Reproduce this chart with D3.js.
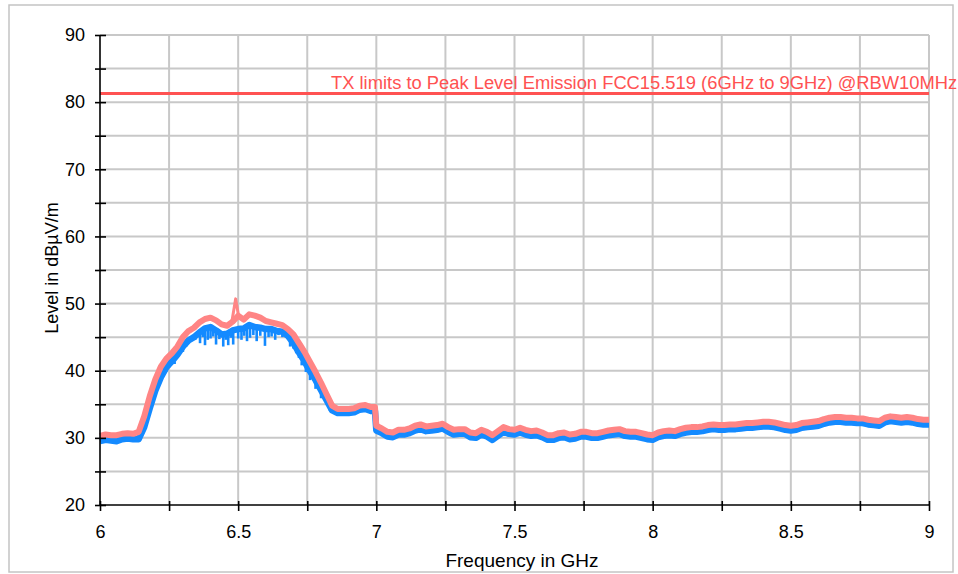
<!DOCTYPE html>
<html>
<head>
<meta charset="utf-8">
<script src="https://cdn.jsdelivr.net/npm/d3@7"></script>
<style>
  body { margin: 0; background: #fff; }
  svg { font-family: "Liberation Sans", Arial, sans-serif; }
  .grid line { stroke: #c8c8c8; stroke-width: 2; }
  .axis path, .axis line { stroke: #000; stroke-width: 1.6; }
  .axis text { font-size: 18px; fill: #000; }
  .axisText { font-size: 18px; fill: #000; text-anchor: middle; }
</style>
</head>
<body>
<div id="chart"></div>
<script>
// Frequencies in GHz (one extra point just before the 7 GHz step)
const freqs = [...d3.range(0, 50).map(i => 6 + i * 0.02), 6.995, ...d3.range(0, 101).map(i => 7 + i * 0.02)]
  .map(f => +f.toFixed(3));

// Peak trace (pink), dBµV/m
const peakLevel = [
  30.3, 30.5, 30.4, 30.4, 30.6, 30.7, 30.6, 30.9, 33.2, 36.2,
  38.7, 40.6, 41.8, 42.6, 43.6, 45.0, 45.9, 46.4, 47.2, 47.7,
  47.9, 47.5, 46.9, 46.7, 47.3, 48.2, 47.6, 48.4, 48.2, 47.9,
  47.4, 47.2, 47.0, 46.8, 46.2, 45.4, 44.1, 42.8, 41.3, 39.8,
  38.2, 36.5, 34.8, 34.3, 34.3, 34.3, 34.4, 34.8, 34.9, 34.6,
  34.6,
  31.8, 31.4, 30.9, 30.8, 31.2, 31.2, 31.4, 31.8, 32.0, 31.7,
  31.8, 31.9, 32.1, 31.6, 31.2, 31.3, 31.3, 30.8, 30.7, 31.2,
  30.9, 30.4, 31.0, 31.6, 31.3, 31.2, 31.5, 31.2, 31.0, 31.1,
  30.8, 30.4, 30.4, 30.7, 30.8, 30.5, 30.6, 30.9, 30.9, 30.7,
  30.7, 30.9, 31.1, 31.2, 31.3, 31.0, 30.9, 30.9, 30.7, 30.5,
  30.4, 30.8, 31.0, 31.1, 31.0, 31.3, 31.5, 31.6, 31.6, 31.7,
  31.9, 32.0, 31.9, 31.9, 32.0, 32.0, 32.1, 32.2, 32.2, 32.3,
  32.4, 32.4, 32.3, 32.1, 31.9, 31.8, 31.9, 32.2, 32.3, 32.4,
  32.5, 32.8, 33.0, 33.1, 33.1, 33.0, 33.0, 32.9, 32.9, 32.7,
  32.6, 32.5, 33.0, 33.2, 33.1, 33.0, 33.1, 33.0, 32.8, 32.7,
  32.7
];

// Average trace (blue), dBµV/m
const avgLevel = [
  29.5, 29.7, 29.6, 29.5, 29.8, 29.9, 29.8, 29.8, 31.6, 34.4,
  37.0, 39.0, 40.5, 41.4, 42.4, 43.6, 44.5, 45.0, 45.7, 46.3,
  46.5, 46.0, 45.4, 45.5, 46.0, 46.2, 46.3, 46.8, 46.5, 46.4,
  46.2, 46.2, 45.9, 45.8, 45.2, 44.1, 42.7, 41.4, 39.9, 38.6,
  37.1, 35.6, 34.1, 33.7, 33.7, 33.7, 33.8, 34.2, 34.3, 34.0,
  34.0,
  31.1, 30.7, 30.2, 30.1, 30.5, 30.5, 30.7, 31.1, 31.3, 31.0,
  31.1, 31.2, 31.4, 30.9, 30.5, 30.6, 30.6, 30.1, 30.0, 30.5,
  30.2, 29.7, 30.3, 30.9, 30.6, 30.5, 30.8, 30.5, 30.3, 30.4,
  30.1, 29.7, 29.7, 30.0, 30.1, 29.8, 29.9, 30.2, 30.2, 30.0,
  30.0, 30.2, 30.4, 30.5, 30.6, 30.3, 30.2, 30.2, 30.0, 29.8,
  29.7, 30.1, 30.3, 30.4, 30.3, 30.6, 30.8, 30.9, 30.9, 31.0,
  31.2, 31.3, 31.2, 31.2, 31.3, 31.3, 31.4, 31.5, 31.5, 31.6,
  31.7, 31.7, 31.6, 31.4, 31.2, 31.1, 31.2, 31.5, 31.6, 31.7,
  31.8, 32.1, 32.3, 32.4, 32.4, 32.3, 32.3, 32.2, 32.2, 32.0,
  31.9, 31.8, 32.3, 32.5, 32.4, 32.3, 32.4, 32.3, 32.1, 32.0,
  32.0
];

// Downward spikes of the blue trace, mostly inside the 6.2–6.75 GHz hump
const dipFreq = [
  6.18, 6.19, 6.205, 6.215, 6.23, 6.24, 6.25, 6.262, 6.27, 6.285, 6.30, 6.312,
  6.326, 6.335, 6.345, 6.355, 6.362, 6.372, 6.38, 6.39, 6.40, 6.41, 6.42, 6.432,
  6.446, 6.455, 6.464, 6.473, 6.482, 6.50, 6.512, 6.522, 6.532, 6.543, 6.555, 6.567,
  6.58, 6.597, 6.61, 6.621, 6.634, 6.646, 6.66, 6.675, 6.688, 6.70, 6.71, 6.72,
  6.73, 6.745, 6.76, 6.78, 6.80, 6.83
];
const dipLevel = [
  34.6, 35.8, 37.0, 38.3, 39.4, 39.9, 40.4, 41.3, 41.0, 42.2, 42.8, 43.6,
  44.3, 44.9, 44.6, 45.0, 44.1, 45.0, 43.8, 44.6, 44.8, 45.1, 43.9, 44.7,
  43.6, 44.6, 43.8, 44.9, 43.9, 44.8, 44.6, 45.2, 44.4, 44.9, 45.3, 44.4,
  45.2, 43.7, 45.0, 45.1, 44.6, 45.3, 45.0, 44.9, 43.6, 43.3, 42.6, 41.9,
  40.8, 39.8, 38.6, 37.3, 35.9, 34.1
];

// Narrow peak on the pink trace near 6.49 GHz
const spikeFreq  = [6.478, 6.491, 6.502];
const spikeLevel = [47.5, 50.7, 48.0];

// FCC limit
const limitLevel = 81.3;
const limitLabel = "TX limits to Peak Level Emission FCC15.519 (6GHz to 9GHz) @RBW10MHz";

const xTicks = d3.range(0, 13).map(i => 6 + i * 0.25);
const yTicks = d3.range(20, 91, 5);

const svgWidth = 958;
const svgHeight = 574;
const margin = { top: 35, right: 29, bottom: 69, left: 100 };
const width = svgWidth - margin.left - margin.right;
const height = svgHeight - margin.top - margin.bottom;

const svg = d3.select("#chart")
  .append("svg")
  .attr("width", svgWidth)
  .attr("height", svgHeight);

// outer frame
svg.append("rect")
  .attr("x", 9).attr("y", 5)
  .attr("width", 944).attr("height", 567)
  .attr("fill", "none")
  .attr("stroke", "#c4c4c4")
  .attr("stroke-width", 1.5);

const chartGroup = svg.append("g")
  .attr("transform", `translate(${margin.left}, ${margin.top})`);

const x = d3.scaleLinear().domain([6, 9]).range([0, width]);
const y = d3.scaleLinear().domain([20, 90]).range([height, 0]);

// grid
const grid = chartGroup.append("g").attr("class", "grid");
grid.selectAll("line.v")
  .data(xTicks.slice(1))
  .enter().append("line")
  .attr("x1", d => x(d)).attr("x2", d => x(d))
  .attr("y1", 0).attr("y2", height);
grid.selectAll("line.h")
  .data(yTicks.slice(1))
  .enter().append("line")
  .attr("x1", 0).attr("x2", width)
  .attr("y1", d => y(d)).attr("y2", d => y(d));

// level of the blue trace at a given frequency (nearest sample)
const avgAt = f => avgLevel[d3.leastIndex(freqs, g => Math.abs(g - f))];

// blue trace
chartGroup.append("g")
  .selectAll("line")
  .data(dipFreq)
  .enter().append("line")
  .attr("x1", d => x(d)).attr("x2", d => x(d))
  .attr("y1", d => y(avgAt(d)))
  .attr("y2", (d, i) => y(dipLevel[i]))
  .attr("stroke", "#148aff")
  .attr("stroke-width", 2.6);

const line = d3.line()
  .x(d => x(d[0]))
  .y(d => y(d[1]));

chartGroup.append("path")
  .datum(freqs.map((f, i) => [f, avgLevel[i]]))
  .attr("d", line)
  .attr("fill", "none")
  .attr("stroke", "#148aff")
  .attr("stroke-width", 6.5)
  .attr("stroke-linejoin", "round");

// pink trace
chartGroup.append("path")
  .datum(freqs.map((f, i) => [f, peakLevel[i]]))
  .attr("d", line)
  .attr("fill", "none")
  .attr("stroke", "#ff8585")
  .attr("stroke-width", 6)
  .attr("stroke-linejoin", "round");

chartGroup.append("path")
  .datum(spikeFreq.map((f, i) => [f, spikeLevel[i]]))
  .attr("d", line)
  .attr("fill", "none")
  .attr("stroke", "#ff8585")
  .attr("stroke-width", 3)
  .attr("stroke-linejoin", "round");

// limit line + label
chartGroup.append("line")
  .attr("x1", 0).attr("x2", width)
  .attr("y1", y(limitLevel)).attr("y2", y(limitLevel))
  .attr("stroke", "#ff5252")
  .attr("stroke-width", 3);

chartGroup.append("text")
  .attr("x", 231)
  .attr("y", y(limitLevel) - 4)
  .attr("fill", "#ff5252")
  .style("font-size", "18.35px")
  .text(limitLabel);

// axes
const leftAxis = d3.axisLeft(y)
  .tickValues(yTicks)
  .tickSize(5)
  .tickPadding(10)
  .tickFormat(d => d % 10 === 0 ? d : "");
const bottomAxis = d3.axisBottom(x)
  .tickValues(xTicks)
  .tickSize(6)
  .tickFormat(d => Math.round(d * 100) % 50 === 0 ? d3.format("~g")(d) : "");

const yAxisG = chartGroup.append("g").attr("class", "axis").call(leftAxis);
yAxisG.select(".domain").attr("d", `M0,0V${height}`);
yAxisG.selectAll(".tick line").attr("x1", 6).attr("x2", -5);

const xAxisG = chartGroup.append("g")
  .attr("class", "axis")
  .attr("transform", `translate(0, ${height})`)
  .call(bottomAxis);
xAxisG.select(".domain").attr("d", `M0,0H${width}`);
xAxisG.selectAll(".tick line").attr("y1", -4).attr("y2", 6);
xAxisG.selectAll(".tick text").attr("y", 20);

// axis titles
svg.append("text")
  .attr("transform", "translate(58, 268) rotate(-90)")
  .attr("class", "axisText")
  .text("Level in dBµV/m");

svg.append("text")
  .attr("x", 522)
  .attr("y", 567)
  .attr("class", "axisText")
  .style("font-size", "19px")
  .text("Frequency in GHz");
</script>
</body>
</html>
